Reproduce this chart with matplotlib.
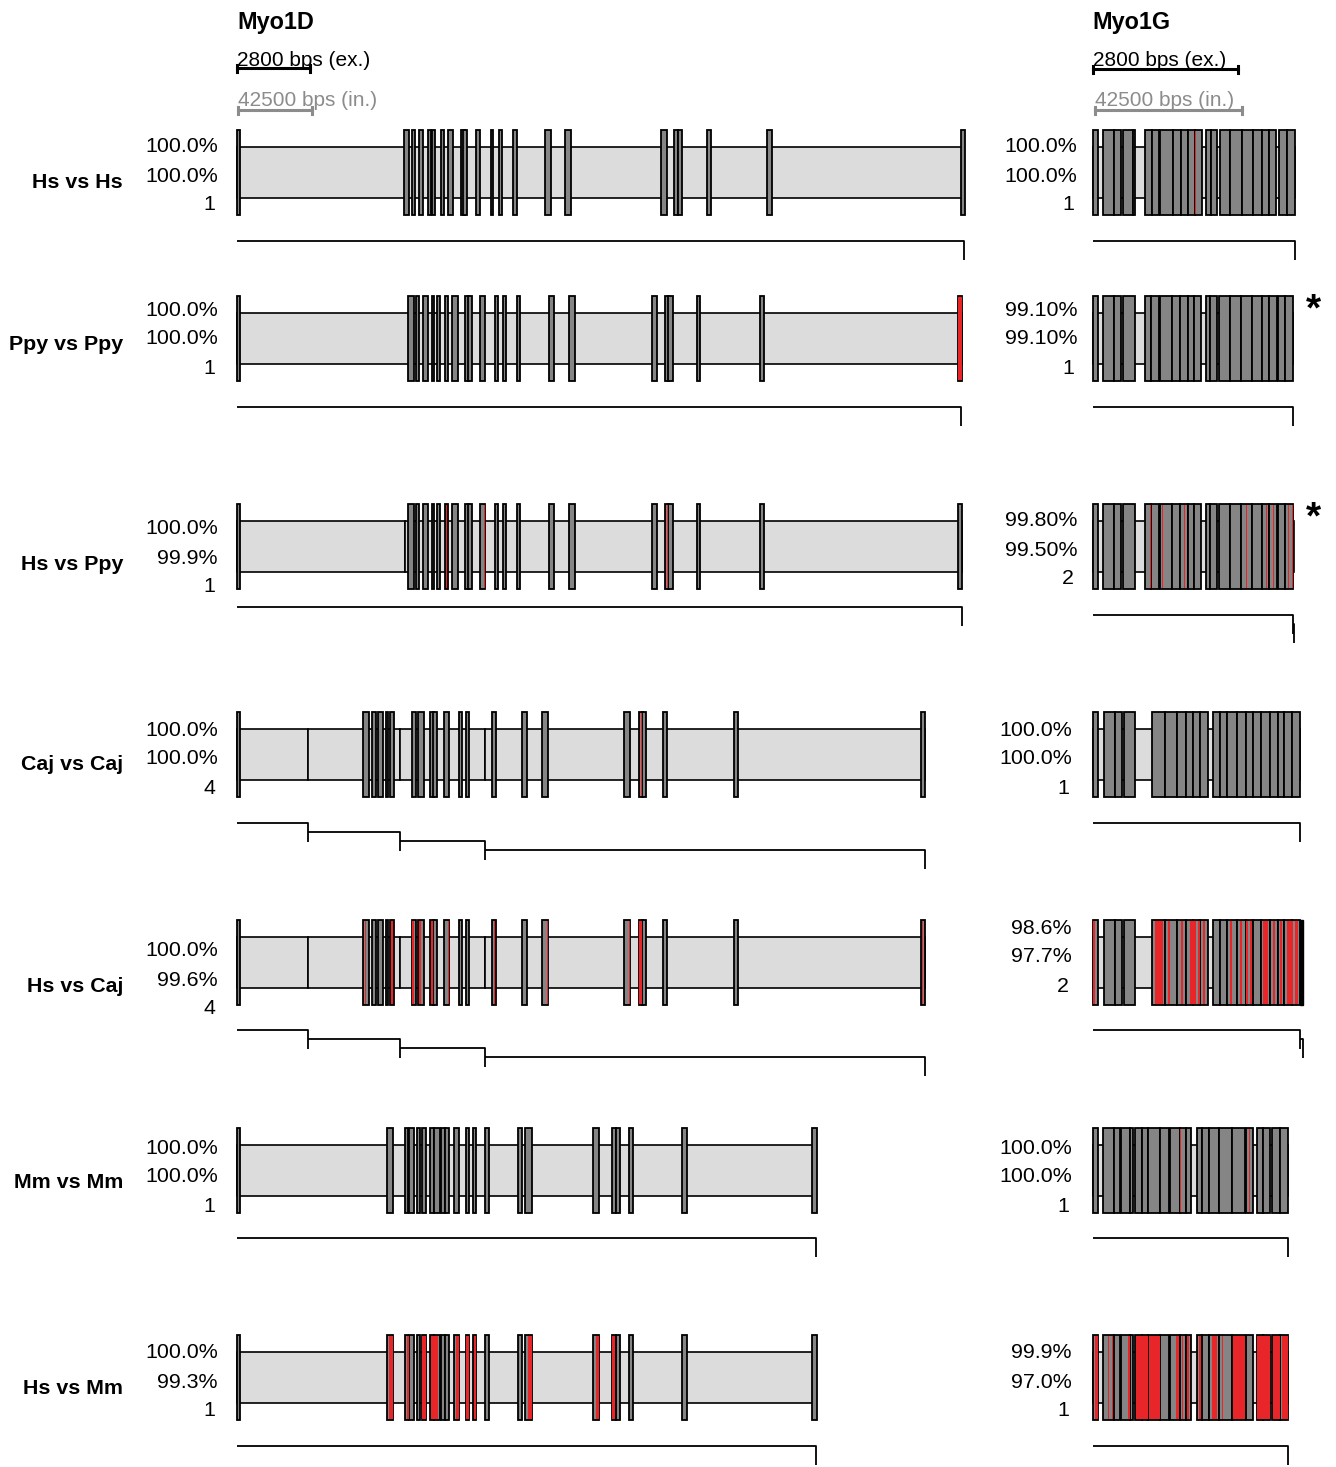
"""
Exon/intron structure of Myo1D and Myo1G across species comparisons.
Positions are in drawing units measured from the gene start.
"""
import matplotlib
matplotlib.use('Agg')
import matplotlib.pyplot as plt
from matplotlib.patches import Rectangle

plt.rcParams['font.family'] = ['Liberation Sans', 'DejaVu Sans']

# --- rows ---
ROW_NAMES = ['Hs vs Hs', 'Ppy vs Ppy', 'Hs vs Ppy', 'Caj vs Caj',
             'Hs vs Caj', 'Mm vs Mm', 'Hs vs Mm']
D_STATS = [('100.0%', '100.0%', '1'), ('100.0%', '100.0%', '1'),
           ('100.0%', '99.9%', '1'), ('100.0%', '100.0%', '4'),
           ('100.0%', '99.6%', '4'), ('100.0%', '100.0%', '1'),
           ('100.0%', '99.3%', '1')]
G_STATS = [('100.0%', '100.0%', '1'), ('99.10%', '99.10%', '1'),
           ('99.80%', '99.50%', '2'), ('100.0%', '100.0%', '1'),
           ('98.6%', '97.7%', '2'), ('100.0%', '100.0%', '1'),
           ('99.9%', '97.0%', '1')]
G_STAR = [False, True, True, False, False, False, False]

# --- Myo1D exon layouts (start, end) ---
D_HS = [(0, 3), (167, 172), (175, 178), (182, 186), (191, 194), (195, 198),
        (204, 207), (211, 216), (224, 228), (226, 230), (239, 243), (254, 256),
        (262, 265), (276, 280), (308, 314), (328, 334), (424, 430), (437, 441),
        (441, 445), (470, 474), (530, 535), (724, 728)]
D_PPY = [(0, 3), (171, 177), (179, 182), (186, 191), (195, 197), (200, 203),
         (208, 211), (215, 221), (228, 232), (231, 235), (243, 248), (258, 261),
         (266, 269), (280, 283), (312, 317), (332, 338), (415, 420), (428, 432),
         (431, 436), (460, 463), (523, 527), (721, 725)]
D_CAJ = [(0, 3), (126, 132), (135, 139), (141, 146), (149, 151), (153, 157),
         (175, 179), (181, 187), (193, 197), (196, 200), (207, 212), (222, 225),
         (229, 232), (255, 259), (285, 290), (305, 311), (387, 393), (402, 406),
         (405, 409), (426, 430), (497, 501), (684, 688)]
D_MM = [(0, 3), (150, 156), (168, 171), (172, 177), (180, 183), (185, 189),
        (193, 197), (197, 203), (204, 208), (208, 212), (217, 222), (229, 232),
        (236, 239), (248, 252), (281, 285), (288, 295), (356, 362), (375, 379),
        (379, 383), (392, 396), (445, 450), (575, 580)]
D_LAYOUT = [D_HS, D_PPY, D_PPY, D_CAJ, D_CAJ, D_MM, D_MM]
D_END = [727, 725, 725, 688, 688, 579, 579]
D_SPLITS = [[], [], [168], [71, 163, 248], [71, 163, 248], [], []]
D_BRACKETS = [[(0, 727)], [(0, 724)], [(0, 725)],
              [(0, 71), (71, 163), (163, 248), (248, 688)],
              [(0, 71), (71, 163), (163, 248), (248, 688)],
              [(0, 579)], [(0, 579)]]
D_RED = [[], [(721, 725)], [(208.5, 210), (246.5, 248), (429.5, 431)],
         [(403.5, 405)],
         [(127.5, 129), (154, 156), (175, 177), (182, 184), (194, 196),
          (210.5, 212), (256.5, 258), (309.5, 311), (391.5, 393), (402, 405),
          (684.5, 686)],
         [],
         [(152, 156), (170, 172), (185, 189), (194, 201), (219, 222),
          (229, 232), (237, 239), (291, 295), (359, 362), (375, 378)]]

# --- Myo1G exon layouts (start, end) ---
G_HS = [(0, 5), (10, 21), (21, 28), (30, 40), (40, 42), (52, 59), (59, 66),
        (67, 80), (80, 88), (88, 95), (95, 102), (102, 109), (113, 118),
        (118, 124), (127, 137), (137, 149), (149, 160), (160, 169), (169, 176),
        (176, 183), (186, 194), (194, 202)]
G_PPY = [(0, 5), (10, 21), (21, 28), (30, 42), (52, 58), (58, 66), (67, 79),
         (79, 87), (87, 95), (95, 101), (101, 108), (113, 117), (117, 124),
         (126, 137), (137, 148), (148, 159), (159, 169), (169, 176), (176, 184),
         (185, 192), (192, 200)]
G_CAJ = [(0, 5), (11, 22), (22, 29), (31, 42), (59, 72), (72, 84), (84, 93),
         (93, 100), (100, 107), (107, 115), (120, 127), (127, 134), (134, 144),
         (144, 153), (153, 160), (160, 168), (168, 177), (177, 185), (185, 191),
         (191, 199), (199, 207)]
G_MM = [(0, 5), (10, 21), (21, 27), (28, 37), (37, 40), (42, 49), (49, 55),
        (55, 67), (67, 76), (77, 87), (87, 93), (93, 98), (104, 109),
        (109, 116), (116, 126), (126, 139), (139, 152), (153, 160), (164, 170),
        (170, 177), (179, 187), (187, 195)]
G_LAYOUT = [G_HS, G_PPY, G_PPY, G_CAJ, G_CAJ, G_MM, G_MM]
G_END = [202, 200, 201, 207, 210, 195, 195]
G_BRACKETS = [[(0, 202)], [(0, 200)], [(0, 200), (200, 201)], [(0, 207)],
              [(0, 207), (207, 210)], [(0, 195)], [(0, 195)]]
G_RED = [[(101.5, 103)], [],
         [(56.5, 58), (68.5, 70), (90.5, 92), (152.5, 154), (172.5, 174),
          (179.5, 181), (194.5, 196), (198.5, 200)],
         [],
         [(0, 1.5), (62, 70), (75, 76.5), (88, 89.5), (97, 103), (105, 107),
          (110, 111.5), (137, 138.5), (147, 148.5), (153, 154.5), (157, 158.5),
          (170, 175), (180, 181.5), (187, 188.5), (194, 200), (202, 205)],
         [(86.5, 88), (155.5, 157)],
         [(2, 5), (15, 16), (19, 20), (35, 37), (43, 55), (56, 67), (83, 86),
          (89, 90), (94, 96), (106, 108), (119, 124), (129, 130), (140, 152),
          (164, 177), (180, 187), (189, 195)]]
G_BLACK = [[], [], [], [], [(207, 210)], [], []]

# --- layout (pixels) ---
W, H = 1336, 1467
ROW_Y = [172, 338, 546, 754, 962, 1170, 1377]
D_X0, G_X0 = 237, 1093
D_TXT = [-27, -30, -19, -26, -13, -24, -26]
G_TXT = [-27, -30, -27, -26, -36, -24, -26]
G_TXT_X = [1077, 1077, 1077, 1072, 1072, 1072, 1072]
D_BRK = [69, 69, 61, 69, 68, 68, 69]
G_BRK = [69, 69, 69, 69, 68, 68, 69]
EXON_H, BAND_H = 85, 51
STEP, DROP = 9, 19
DY = 2  # text baseline nudge

EXON_C = '#858585'
BAND_C = '#dcdcdc'
RED = '#e8262a'


def draw_gene(ax, x0, yc, exons, end, splits, red, black):
    # intron band, possibly split into several boxes
    cuts = [0] + splits + [end]
    for a, b in zip(cuts[:-1], cuts[1:]):
        ax.add_patch(Rectangle((x0 + a, yc - BAND_H / 2), b - a, BAND_H,
                               facecolor=BAND_C, edgecolor='black', lw=1.2, zorder=1))
    for a, b in exons:
        ax.add_patch(Rectangle((x0 + a, yc - EXON_H / 2), b - a, EXON_H,
                               facecolor=EXON_C, edgecolor='black', lw=1.3, zorder=2))
    for a, b in red:
        ax.add_patch(Rectangle((x0 + a, yc - EXON_H / 2 + 1), b - a, EXON_H - 2,
                               facecolor=RED, edgecolor='none', zorder=3))
    for a, b in black:
        ax.add_patch(Rectangle((x0 + a, yc - EXON_H / 2), b - a, EXON_H,
                               facecolor='black', edgecolor='black', lw=1, zorder=3))


def draw_brackets(ax, x0, y, segs):
    for i, (a, b) in enumerate(segs):
        yy = y + i * STEP
        ax.plot([x0 + a, x0 + b, x0 + b], [yy, yy, yy + DROP],
                color='black', lw=1.3, solid_capstyle='butt', zorder=2)


def draw_scale(ax, x0, y_txt, y_bar, length, label, color):
    ax.text(x0, y_txt + DY, label, fontsize=15, color=color, ha='left', va='center')
    ax.plot([x0, x0 + length], [y_bar, y_bar], color=color, lw=2.2)
    for xx in (x0, x0 + length):
        ax.plot([xx, xx], [y_bar - 3, y_bar + 4], color=color, lw=2.2)


fig = plt.figure(figsize=(W / 100, H / 100), dpi=100)
ax = fig.add_axes([0, 0, 1, 1])
ax.set_xlim(0, W)
ax.set_ylim(H, 0)
ax.axis('off')

# headers
ax.text(D_X0, 20 + DY, 'Myo1D', fontsize=16.8, fontweight='bold', ha='left', va='center')
ax.text(G_X0 - 1, 20 + DY, 'Myo1G', fontsize=16.8, fontweight='bold', ha='left', va='center')
draw_scale(ax, D_X0, 58, 68, 73, '2800 bps (ex.)', 'black')
draw_scale(ax, D_X0 + 1, 99, 110, 74, '42500 bps (in.)', '#8c8c8c')
draw_scale(ax, G_X0, 58, 69, 145, '2800 bps (ex.)', 'black')
draw_scale(ax, G_X0 + 2, 99, 110, 147, '42500 bps (in.)', '#8c8c8c')

for i, name in enumerate(ROW_NAMES):
    yc = ROW_Y[i]
    # Myo1D
    draw_gene(ax, D_X0, yc, D_LAYOUT[i], D_END[i], D_SPLITS[i], D_RED[i], [])
    draw_brackets(ax, D_X0, yc + D_BRK[i], D_BRACKETS[i])
    ty = yc + D_TXT[i] + DY
    for k, s in enumerate(D_STATS[i]):
        ax.text(218 if k < 2 else 215, ty + 29 * k, s, fontsize=15.4,
                ha='right', va='center')
    ax.text(123, ty + 35, name, fontsize=15.4, fontweight='bold',
            ha='right', va='center')

    # Myo1G
    draw_gene(ax, G_X0, yc, G_LAYOUT[i], G_END[i], [], G_RED[i], G_BLACK[i])
    draw_brackets(ax, G_X0, yc + G_BRK[i], G_BRACKETS[i])
    ty = yc + G_TXT[i] + DY
    gx = G_TXT_X[i]
    for k, s in enumerate(G_STATS[i]):
        ax.text(gx if k < 2 else gx - 3, ty + 29 * k, s, fontsize=15.4,
                ha='right', va='center')
    if G_STAR[i]:
        ax.text(1313, yc - 28, '*', fontsize=28, fontweight='bold',
                ha='center', va='center')

fig.savefig('out.png', dpi=100)
